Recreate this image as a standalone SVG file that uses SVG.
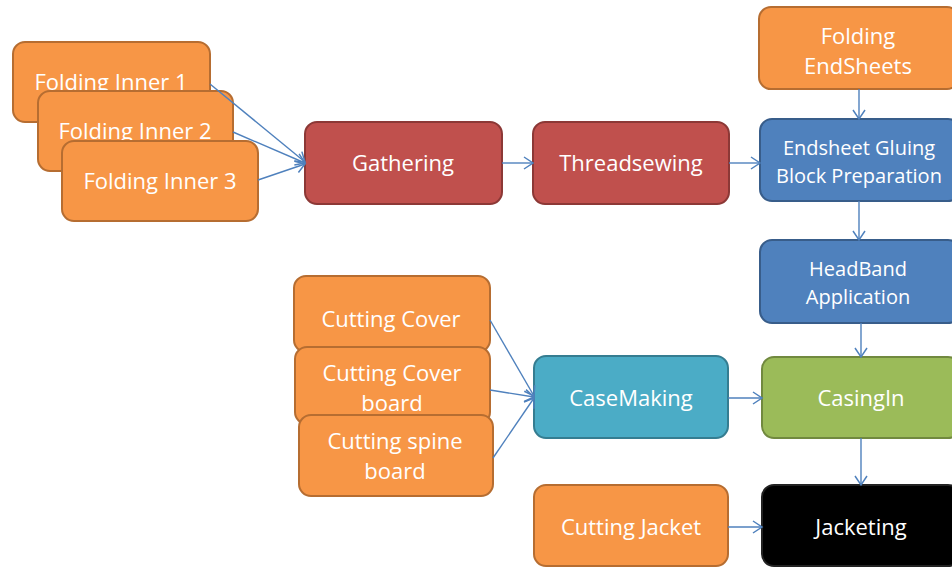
<svg xmlns="http://www.w3.org/2000/svg" width="952" height="568" viewBox="0 0 952 568">
<defs>
<marker id="arr" markerUnits="userSpaceOnUse" markerWidth="12" markerHeight="14" refX="10" refY="7" orient="auto" viewBox="0 0 12 14">
<path d="M1,1 L10,7 L1,13" fill="none" stroke="#4f81bd" stroke-width="1.5"/>
</marker>
</defs>
<style>
rect{stroke-width:2}
.or{fill:#f79646;stroke:#b66d31}
.rd{fill:#c0504d;stroke:#8c3836}
.bl{fill:#4f81bd;stroke:#385d8a}
.tl{fill:#4bacc6;stroke:#357d91}
.gr{fill:#9bbb59;stroke:#71893f}
.bk{fill:#000;stroke:#222}
text{font-family:"Open Sans","Liberation Sans",sans-serif;fill:#fff;text-anchor:middle;font-size:22px}
.s{font-size:20px}
.c line{stroke:#4f81bd;stroke-width:1.4;marker-end:url(#arr)}
</style>
<g id="folding-inner-1"><rect class="or" x="13" y="42" width="197" height="80" rx="12"/><text x="111" y="90">Folding Inner 1</text></g>
<g id="folding-inner-2"><rect class="or" x="38" y="91" width="195" height="80" rx="12"/><text x="135" y="139">Folding Inner 2</text></g>
<g id="folding-inner-3"><rect class="or" x="62" y="141" width="196" height="80" rx="12"/><text x="160" y="189">Folding Inner 3</text></g>
<g id="gathering"><rect class="rd" x="305" y="122" width="197" height="82" rx="12"/><text x="403" y="171">Gathering</text></g>
<g id="threadsewing"><rect class="rd" x="533" y="122" width="196" height="82" rx="12"/><text x="631" y="171">Threadsewing</text></g>
<g id="folding-endsheets"><rect class="or" x="759" y="7" width="200" height="82" rx="12"/><text x="858" y="44">Folding</text><text x="858" y="74">EndSheets</text></g>
<g id="endsheet-gluing"><rect class="bl" x="760" y="119" width="200" height="82" rx="12"/><text class="s" x="859" y="155">Endsheet Gluing</text><text class="s" x="859" y="183">Block Preparation</text></g>
<g id="headband"><rect class="bl" x="760" y="240" width="200" height="83" rx="12"/><text class="s" x="858" y="276">HeadBand</text><text class="s" x="858" y="304">Application</text></g>
<g id="cutting-cover"><rect class="or" x="294" y="276" width="196" height="76" rx="12"/><text x="391" y="327">Cutting Cover</text></g>
<g id="cutting-cover-board"><rect class="or" x="295" y="347" width="195" height="77" rx="12"/><text x="392" y="381">Cutting Cover</text><text x="392" y="411">board</text></g>
<g id="cutting-spine-board"><rect class="or" x="299" y="415" width="194" height="81" rx="12"/><text x="395" y="449">Cutting spine</text><text x="395" y="479">board</text></g>
<g id="casemaking"><rect class="tl" x="534" y="356" width="194" height="82" rx="12"/><text x="631" y="406">CaseMaking</text></g>
<g id="casingin"><rect class="gr" x="762" y="357" width="198" height="81" rx="12"/><text x="861" y="406">CasingIn</text></g>
<g id="cutting-jacket"><rect class="or" x="534" y="485" width="194" height="81" rx="12"/><text x="631" y="535">Cutting Jacket</text></g>
<g id="jacketing"><rect class="bk" x="762" y="485" width="198" height="81" rx="12"/><text x="861" y="535">Jacketing</text></g>
<g class="c" id="connectors">
<line x1="210" y1="84" x2="305" y2="162"/>
<line x1="233" y1="132" x2="305" y2="163"/>
<line x1="258" y1="180" x2="305" y2="164"/>
<line x1="502" y1="163" x2="533" y2="163"/>
<line x1="729" y1="163" x2="760" y2="163"/>
<line x1="859" y1="89" x2="859" y2="119"/>
<line x1="859" y1="201" x2="859" y2="240"/>
<line x1="861" y1="323" x2="861" y2="357"/>
<line x1="861" y1="438" x2="861" y2="485"/>
<line x1="728" y1="398" x2="762" y2="398"/>
<line x1="728" y1="527" x2="762" y2="527"/>
<line x1="490" y1="320" x2="534" y2="396"/>
<line x1="490" y1="390" x2="534" y2="397"/>
<line x1="493" y1="458" x2="534" y2="398"/>
</g>
</svg>
